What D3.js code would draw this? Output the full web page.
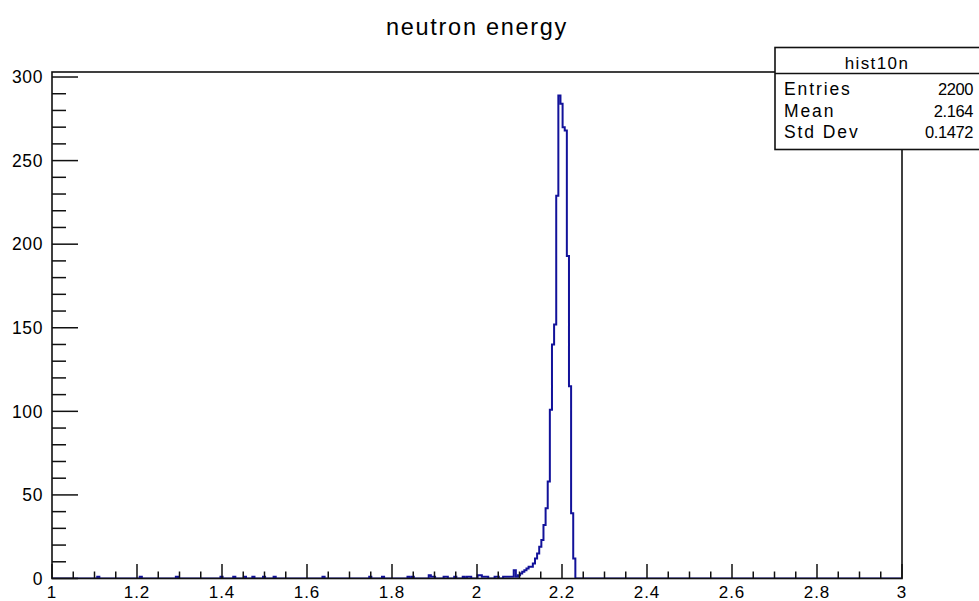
<!DOCTYPE html>
<html>
<head>
<meta charset="UTF-8">
<script src="https://d3js.org/d3.v7.min.js"></script>
<style>
  body { margin: 0; background: #fff; }
  svg { display: block; }
  text { font-family: 'Liberation Sans', Arial, sans-serif; fill: #000; }
</style>
</head>
<body>
<svg id="chart" width="979" height="601"></svg>
<script>
// hist10n : 400 bins of 0.005 between 1 and 3, only the filled bins are listed
var binWidth = 0.005;
var binStart = [1.105, 1.205, 1.29, 1.395, 1.425, 1.45, 1.47, 1.495, 1.52, 1.635,
                1.745, 1.775, 1.835, 1.845, 1.885, 1.89, 1.895, 1.92, 1.925, 1.945,
                1.965, 1.975, 1.98, 2.0, 2.005, 2.01, 2.015, 2.02, 2.04, 2.045,
                2.06, 2.065, 2.07, 2.075, 2.08, 2.085, 2.09, 2.095, 2.1, 2.105,
                2.11, 2.115, 2.12, 2.125, 2.13, 2.135, 2.14, 2.145, 2.15, 2.155,
                2.16, 2.165, 2.17, 2.175, 2.18, 2.185, 2.19, 2.195, 2.2, 2.205,
                2.21, 2.215, 2.22, 2.225];
var binCount = [1, 1, 1, 1, 1, 1, 1, 1, 1, 1,
                1, 1, 1, 1, 2, 1, 1, 1, 1, 1,
                1, 1, 1, 2, 2, 1, 1, 1, 1, 1,
                1, 1, 1, 1, 1, 5, 1, 2, 3, 4,
                5, 6, 7, 7, 9, 12, 15, 19, 23, 32,
                42, 58, 101, 140, 152, 229, 289, 284, 270, 268,
                193, 115, 39, 12];

var xTickLabels = ["1", "1.2", "1.4", "1.6", "1.8", "2", "2.2", "2.4", "2.6", "2.8", "3"];
var yTickLabels = ["0", "50", "100", "150", "200", "250", "300"];

var chartTitle = "neutron energy";
var histName = "hist10n";
var statNames = ["Entries", "Mean", "Std Dev"];
var statValues = ["2200", "2.164", "0.1472"];

var svg = d3.select("#chart");

// frame of the pad
var frameLeft = 52, frameRight = 902, frameTop = 72, frameBottom = 578.5;

var x = d3.scaleLinear().domain([1, 3]).range([frameLeft, frameRight]);
var y = d3.scaleLinear().domain([0, 303]).range([frameBottom, frameTop]);

// full histogram with the empty bins
var nBins = Math.round(2 / binWidth);
var counts = new Array(nBins).fill(0);
binStart.forEach(function(b, i){
	counts[Math.round((b - 1) / binWidth)] = binCount[i];
});
var points = counts.map(function(c, i){ return [1 + i * binWidth, c]; });
points.push([3, 0]);

svg.append("clipPath").attr("id", "frameClip")
	.append("rect").attr("x", frameLeft).attr("y", frameTop)
	.attr("width", frameRight - frameLeft).attr("height", frameBottom - frameTop);

var line = d3.line()
	.x(function(d){ return x(d[0]) + 0.6; })
	.y(function(d){ return y(d[1]); })
	.curve(d3.curveStepAfter);

svg.append("path")
	.datum(points)
	.attr("clip-path", "url(#frameClip)")
	.attr("d", line)
	.attr("fill", "none")
	.attr("stroke", "#12129a")
	.attr("stroke-width", 2);

// frame
svg.append("rect")
	.attr("x", frameLeft).attr("y", frameTop)
	.attr("width", frameRight - frameLeft).attr("height", frameBottom - frameTop)
	.attr("fill", "none").attr("stroke", "#111").attr("stroke-width", 1.6);

var axisColor = "#111";

// x axis ticks, drawn inside the frame
var xMajor = xTickLabels.map(Number);
var xMinor = d3.range(1, 3.0001, 0.05).filter(function(v){
	return Math.abs(v * 5 - Math.round(v * 5)) > 0.01;
});
svg.append("g").selectAll("line").data(xMajor).enter().append("line")
	.attr("x1", function(d){ return x(d); }).attr("x2", function(d){ return x(d); })
	.attr("y1", frameBottom).attr("y2", frameBottom - 14.5)
	.attr("stroke", axisColor).attr("stroke-width", 1.5);
svg.append("g").selectAll("line").data(xMinor).enter().append("line")
	.attr("x1", function(d){ return x(d); }).attr("x2", function(d){ return x(d); })
	.attr("y1", frameBottom).attr("y2", frameBottom - 7)
	.attr("stroke", axisColor).attr("stroke-width", 1.5);
svg.append("g").selectAll("text").data(xTickLabels).enter().append("text")
	.attr("x", function(d){ return x(+d); })
	.attr("y", 598)
	.attr("text-anchor", "middle")
	.attr("font-size", 17)
	.attr("letter-spacing", 1)
	.text(function(d){ return d; });

// y axis ticks
var yMajor = yTickLabels.map(Number);
var yMinor = d3.range(0, 303, 10).filter(function(v){ return v % 50 != 0; });
svg.append("g").selectAll("line").data(yMajor).enter().append("line")
	.attr("x1", frameLeft).attr("x2", frameLeft + 26)
	.attr("y1", function(d){ return y(d); }).attr("y2", function(d){ return y(d); })
	.attr("stroke", axisColor).attr("stroke-width", 1.5);
svg.append("g").selectAll("line").data(yMinor).enter().append("line")
	.attr("x1", frameLeft).attr("x2", frameLeft + 14)
	.attr("y1", function(d){ return y(d); }).attr("y2", function(d){ return y(d); })
	.attr("stroke", axisColor).attr("stroke-width", 1.5);
svg.append("g").selectAll("text").data(yTickLabels).enter().append("text")
	.attr("x", 43)
	.attr("y", function(d){ return y(+d); })
	.attr("dy", "0.36em")
	.attr("text-anchor", "end")
	.attr("font-size", 17.5)
	.attr("letter-spacing", 0.6)
	.text(function(d){ return d; });

// title
svg.append("text")
	.attr("x", 477).attr("y", 35)
	.attr("text-anchor", "middle")
	.attr("font-size", 23.5)
	.attr("letter-spacing", 1.7)
	.text(chartTitle);

// stats box
var box = svg.append("g");
box.append("rect")
	.attr("x", 775).attr("y", 47.5)
	.attr("width", 220).attr("height", 102)
	.attr("fill", "#fff").attr("stroke", "#111").attr("stroke-width", 1.6);
box.append("line")
	.attr("x1", 775).attr("x2", 979)
	.attr("y1", 73.5).attr("y2", 73.5)
	.attr("stroke", "#111").attr("stroke-width", 1.6);
box.append("text")
	.attr("x", 877).attr("y", 69)
	.attr("text-anchor", "middle")
	.attr("font-size", 17)
	.attr("letter-spacing", 1.4)
	.text(histName);
box.selectAll(".statName").data(statNames).enter().append("text")
	.attr("x", 784)
	.attr("y", function(d, i){ return 95 + i * 21.5; })
	.attr("font-size", 17.5)
	.attr("letter-spacing", 1.9)
	.text(function(d){ return d; });
box.selectAll(".statValue").data(statValues).enter().append("text")
	.attr("x", 973)
	.attr("y", function(d, i){ return 95 + i * 21.5; })
	.attr("text-anchor", "end")
	.attr("font-size", 16.5)
	.attr("letter-spacing", -0.4)
	.text(function(d){ return d; });
</script>
</body>
</html>
